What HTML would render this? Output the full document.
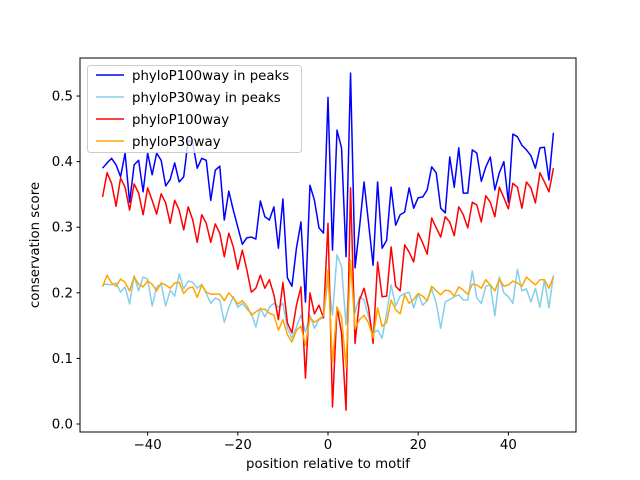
<!DOCTYPE html>
<html><head><meta charset="utf-8"><style>
body{margin:0;background:#fff;}
svg{display:block;font-family:"DejaVu Sans","Liberation Sans",sans-serif;}
</style></head><body>
<svg id="chart" width="640" height="480" viewBox="0 0 640 480" xmlns="http://www.w3.org/2000/svg">
<rect width="640" height="480" fill="#fff"/>
<g id="series"></g>
<g id="axes"></g>
<text x="328" y="468" font-size="13.33" text-anchor="middle">position relative to motif</text>
<text transform="translate(39,245) rotate(-90)" font-size="13.33" text-anchor="middle">conservation score</text>
<g>
<rect x="87.5" y="65.5" width="214" height="87" rx="3" fill="#fff" fill-opacity="0.8" stroke="#ccc"/>
<g><line x1="96" x2="124" y1="75" y2="75" stroke="#0000ff" stroke-width="1.5"/><text x="132" y="80" font-size="13.33">phyloP100way in peaks</text></g>
<g><line x1="96" x2="124" y1="97" y2="97" stroke="#87ceeb" stroke-width="1.5"/><text x="132" y="102" font-size="13.33">phyloP30way in peaks</text></g>
<g><line x1="96" x2="124" y1="119" y2="119" stroke="#ff0000" stroke-width="1.5"/><text x="132" y="124" font-size="13.33">phyloP100way</text></g>
<g><line x1="96" x2="124" y1="141" y2="141" stroke="#ffa500" stroke-width="1.5"/><text x="132" y="146" font-size="13.33">phyloP30way</text></g>
</g>
</svg>
<script>
const positions = Array.from({length:101},(_,i)=>i-50);
const blueVals = [0.390,0.398,0.405,0.395,0.377,0.413,0.338,0.395,0.402,0.354,0.413,0.380,0.413,0.402,0.363,0.373,0.398,0.369,0.377,0.433,0.428,0.390,0.405,0.402,0.341,
0.387,0.393,0.311,0.355,0.326,0.300,0.274,0.284,0.285,0.282,0.340,0.316,0.311,0.331,0.268,0.343,0.223,0.210,0.268,0.308,0.186,0.364,0.341,0.299,0.291,
0.498,0.265,0.448,0.421,0.255,0.535,0.238,0.300,0.369,0.306,0.242,0.369,0.268,0.280,0.361,0.303,0.319,0.323,0.360,0.329,0.345,0.346,0.357,0.392,0.383,
0.329,0.322,0.407,0.361,0.421,0.352,0.352,0.418,0.413,0.370,0.392,0.407,0.357,0.383,0.400,0.338,0.442,0.438,0.425,0.418,0.409,0.390,0.421,0.422,0.372,0.444];
const cyanVals = [0.213,0.213,0.212,0.215,0.201,0.209,0.183,0.226,0.203,0.224,0.221,0.180,0.209,0.213,0.180,0.204,0.195,0.229,0.206,0.218,0.216,0.207,0.213,0.199,0.184,
0.192,0.189,0.155,0.178,0.194,0.178,0.184,0.175,0.169,0.148,0.177,0.163,0.178,0.184,0.178,0.184,0.146,0.131,0.148,0.166,0.140,0.166,0.146,0.159,0.162,
0.220,0.166,0.258,0.240,0.151,0.240,0.170,0.194,0.189,0.163,0.139,0.143,0.131,0.169,0.212,
0.180,0.195,0.199,0.201,0.177,0.199,0.181,0.188,0.206,0.184,0.146,0.186,0.190,0.194,0.197,0.189,0.189,0.233,0.192,0.184,0.210,0.212,0.165,0.224,0.200,0.194,0.184,0.236,0.203,0.206,0.186,0.207,0.178,0.220,0.177,0.227];
const redVals = [0.346,0.383,0.367,0.332,0.375,0.361,0.326,0.366,0.352,0.319,0.360,0.341,0.320,0.351,0.337,0.306,0.341,0.326,0.296,0.331,0.311,0.277,0.319,0.306,0.277,
0.305,0.291,0.255,0.291,0.270,0.236,0.265,0.235,0.201,0.207,0.227,0.207,0.220,0.197,0.159,0.216,0.154,0.139,0.181,0.209,0.070,0.200,0.168,0.181,0.162,
0.306,0.026,0.178,0.139,0.021,0.360,0.123,0.189,0.207,0.177,0.123,0.247,0.194,0.195,0.270,0.210,0.203,0.273,0.262,0.247,0.291,0.276,0.259,0.314,0.299,
0.285,0.316,0.308,0.287,0.331,0.319,0.299,0.338,0.334,0.308,0.348,0.338,0.316,0.361,0.345,0.328,0.367,0.361,0.329,0.369,0.360,0.337,0.383,0.369,0.354,0.390];
const orangeVals = [0.209,0.227,0.215,0.210,0.221,0.216,0.203,0.224,0.213,0.209,0.218,0.213,0.203,0.215,0.212,0.207,0.215,0.216,0.199,0.207,0.209,0.193,0.212,0.201,0.198,
0.198,0.198,0.188,0.200,0.192,0.183,0.188,0.180,0.166,0.171,0.175,0.175,0.169,0.166,0.143,0.159,0.136,0.125,0.143,0.149,0.120,0.162,0.155,0.160,0.165,
0.235,0.093,0.178,0.163,0.087,0.250,0.146,0.159,0.166,0.154,0.131,0.177,0.149,0.155,0.189,
0.174,0.168,0.197,0.184,0.190,0.199,0.195,0.188,0.210,0.203,0.197,0.204,0.203,0.195,0.209,0.204,0.198,0.213,0.212,0.207,0.220,0.212,0.203,0.221,0.210,0.212,0.218,0.215,0.210,0.224,0.218,0.212,0.220,0.220,0.207,0.224];
const xTicks = [-40,-20,0,20,40];
const yTicks = [0.0,0.1,0.2,0.3,0.4,0.5];
const yTickLabels = ["0.0","0.1","0.2","0.3","0.4","0.5"];

const L=80,R=576,T=58,B=432, XMIN=-55, XMAX=55, YMIN=-0.0122, YMAX=0.558;
const xs=v=>L+(v-XMIN)/(XMAX-XMIN)*(R-L);
const ys=v=>B-(v-YMIN)/(YMAX-YMIN)*(B-T);
const NS="http://www.w3.org/2000/svg";
const sg=document.getElementById('series'), ag=document.getElementById('axes');
function mk(tag,attrs,parent){const e=document.createElementNS(NS,tag);for(const k in attrs)e.setAttribute(k,attrs[k]);parent.appendChild(e);return e;}
const series=[[blueVals,'#0000ff','line-phylop100-peaks'],[cyanVals,'#87ceeb','line-phylop30-peaks'],[redVals,'#ff0000','line-phylop100'],[orangeVals,'#ffa500','line-phylop30']];
series.forEach(([vals,col,name])=>{
  const d=vals.map((v,i)=>(i?'L':'M')+xs(positions[i]).toFixed(2)+','+ys(v).toFixed(2)).join('');
  const p=mk('path',{d:d,fill:'none',stroke:col,'stroke-width':1.5,'stroke-linejoin':'round'},sg);
  
  
});
const frame=mk('rect',{x:L,y:T,width:R-L,height:B-T,fill:'none',stroke:'#000','stroke-width':1},ag);


xTicks.forEach(t=>{
  const x=xs(t);
  const ln=mk('line',{x1:x,x2:x,y1:B,y2:B+3.5,stroke:'#000'},ag);
  
  
  const tx=mk('text',{x:x,y:B+17,'font-size':13.33,'text-anchor':'middle'},ag);
  tx.textContent=(t<0?'\u2212'+(-t):String(t));
  
  
});
yTicks.forEach((t,i)=>{
  const y=ys(t);
  const ln=mk('line',{x1:L-3.5,x2:L,y1:y,y2:y,stroke:'#000'},ag);
  
  
  const tx=mk('text',{x:L-7,y:y+4.5,'font-size':13.33,'text-anchor':'end'},ag);
  tx.textContent=yTickLabels[i];
  
  
});
</script>
</body></html>
